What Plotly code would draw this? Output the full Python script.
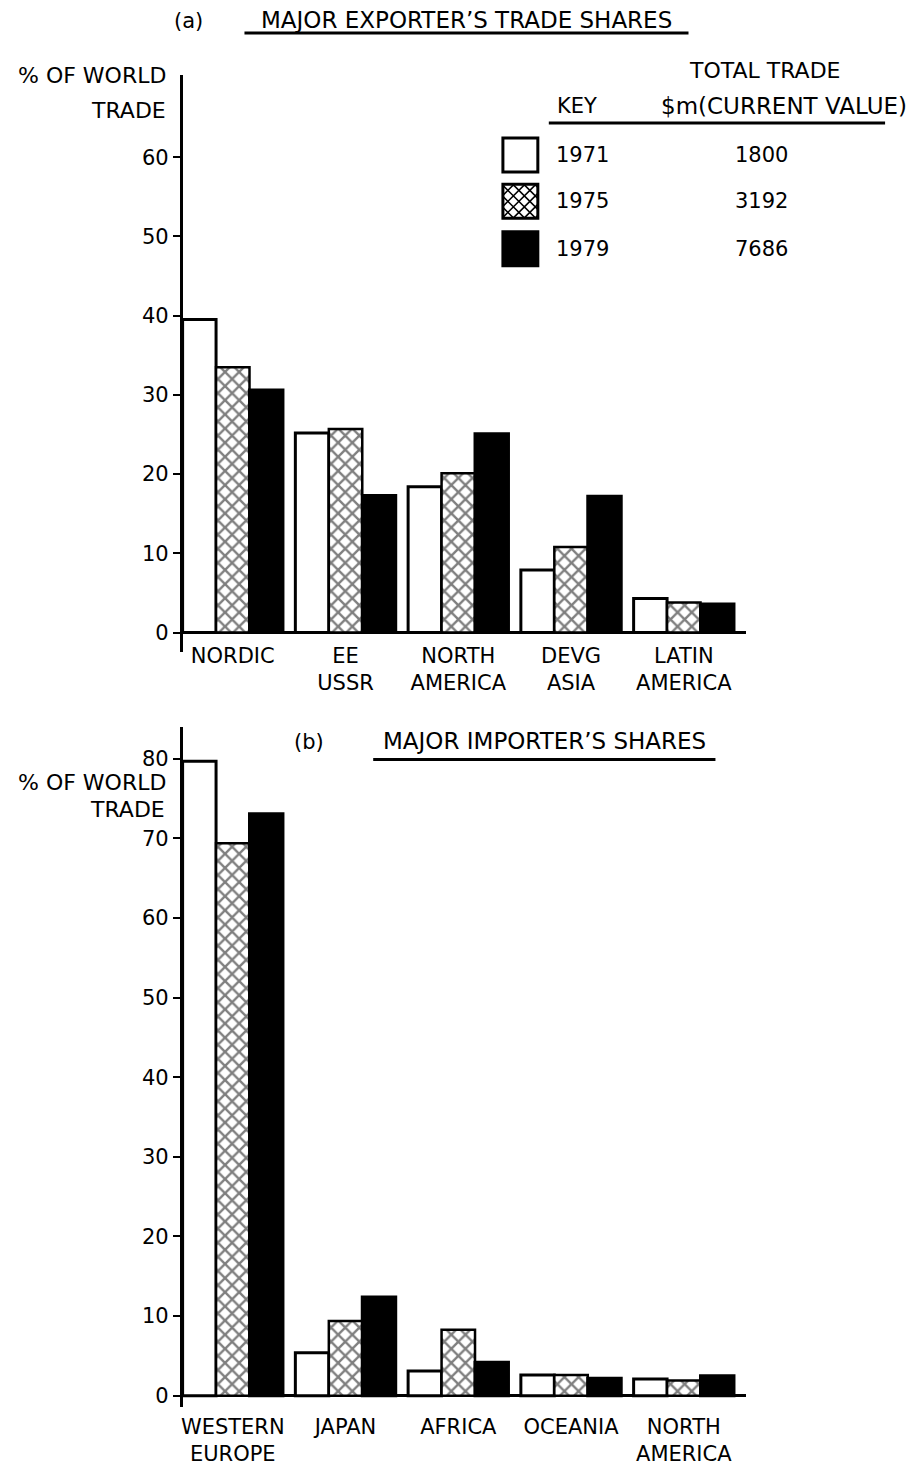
import plotly.graph_objects as go

W, H = 921, 1468

# ---------------- data ----------------
years = ["1971", "1975", "1979"]
total_trade = ["1800", "3192", "7686"]

exporters = ["NORDIC", "EE<br>USSR", "NORTH<br>AMERICA", "DEVG<br>ASIA", "LATIN<br>AMERICA"]
exp_1971 = [39.5, 25.2, 18.4, 7.9, 4.3]
exp_1975 = [33.5, 25.7, 20.1, 10.8, 3.8]
exp_1979 = [30.6, 17.3, 25.1, 17.2, 3.6]

importers = ["WESTERN<br>EUROPE", "JAPAN", "AFRICA", "OCEANIA", "NORTH<br>AMERICA"]
imp_1971 = [79.7, 5.4, 3.1, 2.6, 2.1]
imp_1975 = [69.4, 9.4, 8.3, 2.6, 1.9]
imp_1979 = [73.1, 12.4, 4.2, 2.2, 2.5]

exp_ticks = [0, 10, 20, 30, 40, 50, 60]
imp_ticks = [0, 10, 20, 30, 40, 50, 60, 70, 80]

# ---------------- helpers (layout only) ----------------
FONT = "DejaVu Sans, Liberation Sans, Arial, sans-serif"


def px(x):
    return x / W


def py(y):
    return 1 - y / H


styles = {
    "1971": dict(color="white", line=dict(color="black", width=3)),
    "1975": dict(color="white",
                 pattern=dict(shape="x", size=10, solidity=0.42,
                              fgcolor="black", bgcolor="white"),
                 line=dict(color="black", width=2.5)),
    "1979": dict(color="black", line=dict(color="black", width=3)),
}

fig = go.Figure()
for yr, vals in zip(years, [exp_1971, exp_1975, exp_1979]):
    fig.add_trace(go.Bar(x=exporters, y=vals, name=yr, marker=styles[yr],
                         xaxis="x", yaxis="y", showlegend=False))
for yr, vals in zip(years, [imp_1971, imp_1975, imp_1979]):
    fig.add_trace(go.Bar(x=importers, y=vals, name=yr, marker=styles[yr],
                         xaxis="x2", yaxis="y2", showlegend=False))

xdom = [px(181), px(746)]
xrange_ = [-0.445, 4.555]
tickfont = dict(family=FONT, size=21, color="black")

common_x = dict(domain=xdom, range=xrange_, type="category", showline=False,
                ticks="", showgrid=False, zeroline=False, tickfont=tickfont,
                fixedrange=True)
common_y = dict(showline=True, linecolor="black", linewidth=2.5,
                ticks="outside", ticklen=7, tickwidth=2, tickcolor="black",
                showgrid=False, zeroline=True, zerolinecolor="black",
                zerolinewidth=3, tickfont=tickfont, fixedrange=True)
over_y = dict(ticks="inside", ticklen=7, tickwidth=2, tickcolor="black",
              showticklabels=False, showline=False, showgrid=False,
              zeroline=False, side="left", fixedrange=True)

top_rng = [-2.40, 70.38]
bot_rng = [-1.42, 84.05]

fig.update_layout(
    width=W, height=H,
    margin=dict(l=0, r=0, t=0, b=0),
    paper_bgcolor="white", plot_bgcolor="white",
    barmode="group", bargap=0.11, bargroupgap=0,
    font=dict(family=FONT, color="black"),
    xaxis=dict(anchor="y", ticklabelstandoff=-11, **common_x),
    yaxis=dict(domain=[py(652), py(75)], range=top_rng, anchor="x",
               tickvals=exp_ticks, **common_y),
    yaxis3=dict(overlaying="y", anchor="x", range=top_rng,
                tickvals=exp_ticks, **over_y),
    xaxis2=dict(anchor="y2", ticklabelstandoff=5, **common_x),
    yaxis2=dict(domain=[py(1408), py(727)], range=bot_rng, anchor="x2",
                tickvals=imp_ticks, **common_y),
    yaxis4=dict(overlaying="y2", anchor="x2", range=bot_rng,
                tickvals=imp_ticks, **over_y),
)

ann = []


def text(t, x, y, xanchor="center", size=21):
    ann.append(dict(text=t, x=px(x), y=py(y), xref="paper", yref="paper",
                    xanchor=xanchor, yanchor="middle", showarrow=False,
                    font=dict(family=FONT, size=size, color="black")))


# titles
text("(a)", 187, 21)
text("MAJOR EXPORTER\u2019S TRADE SHARES", 465.5, 20, size=23)
text("(b)", 308, 743)
text("MAJOR IMPORTER\u2019S SHARES", 543.5, 742, size=23)

# y titles
text("% OF WORLD", 166, 76, xanchor="right", size=22)
text("TRADE", 166, 111, xanchor="right", size=22)
text("% OF WORLD", 166, 783, xanchor="right", size=22)
text("TRADE", 165, 810, xanchor="right", size=22)

# key
text("TOTAL TRADE", 765, 71, size=22)
text("KEY", 576, 106)
text("$m(CURRENT VALUE)", 784, 106, size=23)
key_y = [155, 201.5, 249]
for yr, tv, ky in zip(years, total_trade, key_y):
    text(yr, 553, ky, xanchor="left")
    text(tv, 761, ky)

shapes = []


def hline(x0, x1, y, w=3):
    shapes.append(dict(type="line", xref="paper", yref="paper",
                       x0=px(x0), x1=px(x1), y0=py(y), y1=py(y),
                       line=dict(color="black", width=w)))


hline(243, 688, 33)
hline(372, 715, 760)
hline(548, 885, 123)

# key swatches
bx0, bx1 = 502, 537
box_h = 34
for yr, ky in zip(years, key_y):
    y0, y1 = ky - box_h / 2, ky + box_h / 2
    st = styles[yr]
    shapes.append(dict(type="rect", xref="paper", yref="paper",
                       x0=px(bx0), x1=px(bx1), y0=py(y1), y1=py(y0),
                       fillcolor=st["color"],
                       line=dict(color="black", width=3)))
    if "pattern" in st:
        sp = 11
        segs = []
        c = bx0 - y1
        while c <= bx1 - y0:
            ya, yb = max(y0, bx0 - c), min(y1, bx1 - c)
            if yb > ya:
                segs.append(((ya + c, ya), (yb + c, yb)))
            c += sp
        c = bx0 + y0
        while c <= bx1 + y1:
            ya, yb = max(y0, c - bx1), min(y1, c - bx0)
            if yb > ya:
                segs.append(((c - ya, ya), (c - yb, yb)))
            c += sp
        path = " ".join(f"M{px(a[0]):.5f},{py(a[1]):.5f} L{px(b[0]):.5f},{py(b[1]):.5f}"
                        for a, b in segs)
        shapes.append(dict(type="path", xref="paper", yref="paper", path=path,
                           line=dict(color="black", width=1.5)))

fig.update_layout(annotations=ann, shapes=shapes)

fig.write_html("out.html",
               config={"displayModeBar": False},
               post_script="document.body.style.margin='0';"
                           "document.body.style.overflow='hidden';")
